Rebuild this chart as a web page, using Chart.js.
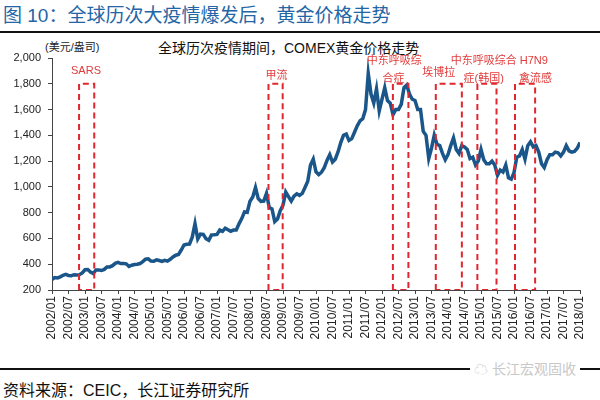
<!DOCTYPE html>
<html><head><meta charset="utf-8">
<script src="https://cdn.jsdelivr.net/npm/chart.js@4/dist/chart.umd.min.js"></script>
<style>
html,body{margin:0;padding:0;background:#fff;width:600px;height:400px;overflow:hidden;font-family:"Liberation Sans","Noto Sans CJK SC",sans-serif;}
#wrap{position:relative;width:600px;height:400px;}
canvas{position:absolute;left:0;top:0;}
.t{position:absolute;white-space:nowrap;}
</style></head>
<body><div id="wrap">
<div class="t" style="left:3px;top:0px;font-size:19px;color:#2465a6;font-family:'Liberation Sans','Noto Sans CJK SC',sans-serif;">图 10：全球历次大疫情爆发后，黄金价格走势</div>
<div class="t" style="left:0;top:31px;width:600px;height:2px;background:#111;"></div>
<div class="t" style="left:45px;top:38px;font-size:11px;color:#222;">(美元/盎司)</div>
<div class="t" style="left:158px;top:37px;font-size:14px;color:#111;">全球历次疫情期间，COMEX黄金价格走势</div>
<div class="t" style="left:0;top:368px;width:600px;height:2px;background:#111;"></div>
<div class="t" style="left:470px;top:358px;font-size:14px;color:#c8c8c8;background:#fff;padding:0 4px;">☁ 长江宏观固收</div>
<div class="t" style="left:3px;top:377px;font-size:16px;color:#111;">资料来源：CEIC，长江证券研究所</div>
<canvas id="c" width="600" height="400"></canvas>
</div>
<script>
// Monthly COMEX gold price (USD/oz), 2002/01 .. 2018/01
const startYear = 2002;
const goldPrice = [
 282,296,294,302,314,321,313,310,319,317,319,333,
 357,359,340,328,355,356,351,360,379,379,389,407,
 414,405,406,403,383,392,398,400,405,420,439,442,
 424,423,434,429,422,430,424,438,456,470,476,510,
 549,555,557,610,715,596,634,632,598,586,628,629,
 631,665,655,680,668,656,665,665,713,754,806,803,
 889,922,995,909,888,890,950,839,829,730,750,816,
 858,960,925,890,928,946,934,949,996,1043,1170,1215,
 1117,1095,1114,1149,1205,1250,1193,1215,1271,1343,1400,1410,
 1360,1374,1424,1474,1512,1529,1600,1880,1720,1650,1760,1590,
 1680,1770,1670,1650,1560,1600,1600,1640,1770,1790,1720,1680,
 1670,1600,1600,1430,1400,1220,1300,1400,1330,1320,1260,1210,
 1250,1320,1380,1290,1260,1320,1310,1290,1220,1230,1170,1200,
 1290,1210,1180,1180,1200,1170,1090,1130,1115,1170,1070,1060,
 1110,1230,1240,1290,1215,1320,1350,1310,1320,1270,1180,1150,
 1210,1250,1250,1270,1265,1240,1270,1320,1280,1270,1275,1300,
 1345
];
// Epidemic windows (decimal years) and their labels
const boxStart = [2002.82, 2008.56, 2012.33, 2013.63, 2014.89, 2016.03];
const boxEnd   = [2003.28, 2008.99, 2012.80, 2014.42, 2015.47, 2016.64];
const boxTop = 1800, boxBottom = 200;
const boxLabels = [["SARS"],["甲流"],["中东呼吸综","合症"],["埃博拉"],["中东呼吸综合","症(韩国)"],["H7N9","禽流感"]];
const labelX = [[2003.03],[2008.80],[2012.37,2012.35],[2013.72],[2015.08,2015.08],[2016.60,2016.65]];
const labelY = [[1898],[1862],[1975,1835],[1882],[1975,1835],[1975,1835]];
const yMin = 200, yMax = 2000, yStep = 100;
const xMin = 2002, xMax = 2018, xStep = 0.5;

const goldPts = goldPrice.map((v,i)=>({x: startYear + i/12, y: v}));
const red = '#e0262e';
const datasets = boxStart.map((s,i)=>({
  data:[{x:s,y:boxBottom},{x:s,y:boxTop},{x:boxEnd[i],y:boxTop},{x:boxEnd[i],y:boxBottom},{x:s,y:boxBottom}],
  borderColor:red, borderWidth:2, borderDash:[6,4], pointRadius:0, fill:false, tension:0, order:0
}));
datasets.push({data:goldPts, borderColor:'#1a5689', borderWidth:3.5, pointRadius:0, fill:false, tension:0, order:1});

const labelPlugin = {
  id:'lbls',
  afterDatasetsDraw(chart){
    const ctx=chart.ctx, xs=chart.scales.x, ys=chart.scales.y;
    ctx.save();
    ctx.fillStyle='#e23a3a';
    ctx.textAlign='center'; ctx.textBaseline='middle';
    ctx.font='11px "Liberation Sans","Noto Sans CJK SC"';
    boxLabels.forEach((lines,i)=>{
      lines.forEach((t,j)=>{
        const cx=xs.getPixelForValue(labelX[i][j]);
        const py=ys.getPixelForValue(labelY[i][j]);
        ctx.fillText(t,cx,py);
      });
    });
    ctx.restore();
  }
};

new Chart(document.getElementById('c'),{
  type:'line',
  data:{datasets},
  options:{
    responsive:false, animation:false, maintainAspectRatio:false,
    layout:{padding:{left:0,top:58,right:20,bottom:0}},
    plugins:{legend:{display:false},tooltip:{enabled:false}},
    scales:{
      x:{type:'linear',min:xMin,max:xMax,
        afterFit(s){s.height=110;},
        afterBuildTicks(s){const t=[];for(let v=xMin;v<=xMax+1e-9;v+=xStep)t.push({value:v});s.ticks=t;},
        grid:{drawOnChartArea:false,drawTicks:true,tickLength:4,color:'#444'},
        border:{color:'#444',width:1},
        ticks:{autoSkip:false,minRotation:90,maxRotation:90,padding:2,color:'#222',
          font:{size:12,family:'"Liberation Sans"'},
          callback(v){const y=Math.floor(v+1e-9);return y+(v-y>0.25?'/07':'/01');}}
      },
      y:{min:yMin,max:yMax,
        afterFit(s){s.width=52;},
        grid:{drawOnChartArea:false,drawTicks:true,tickLength:4,color:'#444'},
        border:{color:'#444',width:1},
        ticks:{stepSize:yStep,padding:7,color:'#222',font:{size:11,family:'"Liberation Sans"'},
          callback(v){return v.toLocaleString('en-US');}}
      }
    }
  },
  plugins:[labelPlugin]
});
</script>
</body></html>
